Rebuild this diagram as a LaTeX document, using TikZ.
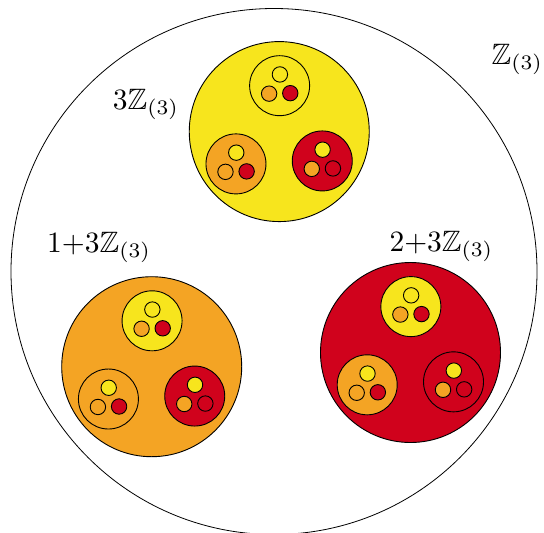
\documentclass[tikz,border=0pt]{standalone}
\usepackage{amssymb}
\definecolor{cyel}{RGB}{247,229,29}
\definecolor{cora}{RGB}{244,164,36}
\definecolor{cred}{RGB}{208,2,28}
\newcommand\biglab[1]{\scalebox{2.95}{$#1$}}
\begin{document}
\begin{tikzpicture}[x=1pt,y=-1pt,
  disc/.style={draw=black, line width=0.9pt},
  outer/.style={draw=black, line width=0.8pt, fill=white},
  lab/.style={anchor=base west, inner sep=0pt}]
\useasboundingbox (0,0) rectangle (544,533);
\draw[outer] (274,271.5) circle[radius=263];
\foreach \colA/\ax/\ay in {cyel/0.020/-0.532, cora/-0.465/0.362, cred/0.519/0.308} {
  \pgfmathsetmacro\Ax{274+263*\ax}
  \pgfmathsetmacro\Ay{271.5+263*\ay}
  \draw[disc, fill=\colA] (\Ax,\Ay) circle[radius=90];
  \foreach \colB/\bx/\by in {cyel/0.004/-0.51, cora/-0.481/0.359, cred/0.478/0.326} {
    \pgfmathsetmacro\Bx{\Ax+90*\bx}
    \pgfmathsetmacro\By{\Ay+90*\by}
    \draw[disc, fill=\colB] (\Bx,\By) circle[radius=30];
    \foreach \colC/\qx/\qy in {cyel/0.01/-0.375, cora/-0.35/0.265, cred/0.355/0.25} {
      \pgfmathsetmacro\Cx{\Bx+30*\qx}
      \pgfmathsetmacro\Cy{\By+30*\qy}
      \draw[disc, fill=\colC] (\Cx,\Cy) circle[radius=7.7];
    }
  }
}
\node[lab] (l0) at (491.5,64) {\biglab{\mathbb{Z}_{(3)}}};
\node[lab] (l1) at (112.7,109) {\biglab{3\mathbb{Z}_{(3)}}};
\node[lab] (l2) at (47,252) {\biglab{1{+}3\mathbb{Z}_{(3)}}};
\node[lab] (l3) at (389.3,251) {\biglab{2{+}3\mathbb{Z}_{(3)}}};
\end{tikzpicture}
\end{document}
